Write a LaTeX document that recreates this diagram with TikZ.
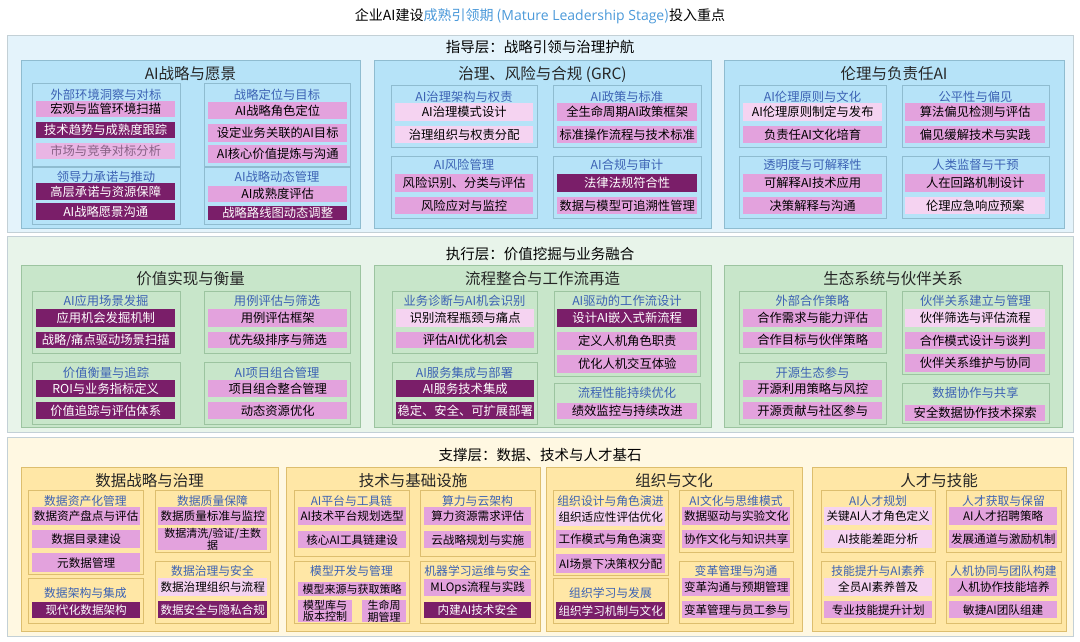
\documentclass[tikz,border=0pt]{standalone}
\usepackage{fontspec}
\setmainfont{Noto Sans CJK SC}
\newfontfamily\lat{Open Sans}
\definecolor{tAbg}{HTML}{E4F3FB}\definecolor{tAsec}{HTML}{B6E3F8}\definecolor{tAbd}{HTML}{8FBCD0}
\definecolor{tBbg}{HTML}{E8F4EA}\definecolor{tBsec}{HTML}{C8E6CA}\definecolor{tBbd}{HTML}{9CC4A0}
\definecolor{tCbg}{HTML}{FFF8E2}\definecolor{tCsec}{HTML}{FFE7A6}\definecolor{tCbd}{HTML}{DDBE6E}
\definecolor{tierbd}{HTML}{C3D0D6}
\definecolor{im}{HTML}{E3A2DD}\definecolor{id}{HTML}{7A1E69}\definecolor{il}{HTML}{F5D3F1}
\definecolor{gt}{HTML}{3C62B4}\definecolor{ttl}{HTML}{4C9ADA}
\newcounter{nd}
\tikzset{
 x=1pt,y=-1pt,
 item/.style={inner sep=0pt,align=center,font=\fontsize{12.3}{13}\selectfont},
 m/.style={item,fill=im,text=black},
 d/.style={item,fill=id,text=white},
 l/.style={item,fill=il,text=black},
 f/.style={item,fill=im!80!white,text=black!40!im},
 sm/.style={font=\fontsize{11}{11.5}\selectfont},
 gtitle/.style={text=gt,inner sep=0pt,font=\fontsize{12.3}{13}\selectfont},
 stitle/.style={text=black!85,inner sep=0pt,font=\fontsize{15.5}{16}\selectfont},
}
\newcommand\itm[6]{\stepcounter{nd}\node[#5,minimum width={#3-#1},minimum height={#4-#2},anchor=north west] (n\arabic{nd}) at (#1,#2) {#6};}
\newcommand\grpt[7]{\stepcounter{nd}\draw[draw=#6,line width=0.8pt] (#1,#2) rectangle (#3,#4);
 \node[gtitle] (n\arabic{nd}) at ({(#1+#3)/2},#5) {#7};}
\newcommand\secb[7]{\stepcounter{nd}\filldraw[fill=#5,draw=#6,line width=0.8pt] (#1,#2) rectangle (#3,#4);
 \node[stitle] (n\arabic{nd}) at ({(#1+#3)/2},{#2+14}) {#7};}
\begin{document}
\begin{tikzpicture}
\useasboundingbox (0,0) rectangle (1080,641);
\fill[white] (0,0) rectangle (1080,641);
\node[font=\fontsize{14}{15}\selectfont] (title) at (540,16) {企业AI建设\textcolor{ttl}{成熟引领期 ({\lat Mature Leadership Stage})}投入重点};
% tiers
\filldraw[fill=tAbg,draw=tierbd,line width=1pt] (7,35) rectangle (1073,232);
\node[font=\fontsize{14.5}{15}\selectfont] (t1) at (540,47) {指导层：战略引领与治理护航};
\filldraw[fill=tBbg,draw=tierbd,line width=1pt] (7,236) rectangle (1073,432);
\node[font=\fontsize{14.5}{15}\selectfont] (t2) at (540,254) {执行层：价值挖掘与业务融合};
\filldraw[fill=tCbg,draw=tierbd,line width=1pt] (7,437) rectangle (1073,636);
\node[font=\fontsize{14.5}{15}\selectfont] (t3) at (540,455) {支撑层：数据、技术与人才基石};
% ===== Tier 1 =====
\secb{21}{60}{360}{228}{tAsec}{tAbd}{AI战略与愿景}
\grpt{32}{83}{180}{166}{95}{tAbd}{外部环境洞察与对标}
\itm{36}{101}{175}{117}{m}{宏观与监管环境扫描}
\itm{36}{122}{175}{138}{d}{技术趋势与成熟度跟踪}
\itm{36}{143}{175}{159}{f}{市场与竞争对标分析}
\grpt{32}{167}{180}{224}{177}{tAbd}{领导力承诺与推动}
\itm{36}{183}{175}{200}{d}{高层承诺与资源保障}
\itm{36}{203}{175}{220}{d}{AI战略愿景沟通}
\grpt{204}{83}{350}{166}{95}{tAbd}{战略定位与目标}
\itm{208}{102}{347}{119}{m}{AI战略角色定位}
\itm{208}{124}{347}{142}{m}{设定业务关联的AI目标}
\itm{208}{145}{347}{163}{m}{AI核心价值提炼与沟通}
\grpt{204}{167}{350}{224}{177}{tAbd}{AI战略动态管理}
\itm{208}{186}{347}{202}{m}{AI成熟度评估}
\itm{208}{206}{347}{220}{d}{战略路线图动态调整}
\secb{374}{60}{711}{228}{tAsec}{tAbd}{治理、风险与合规 (GRC)}
\grpt{391}{85}{537}{147}{97}{tAbd}{AI治理架构与权责}
\itm{395}{103}{533}{121}{l}{AI治理模式设计}
\itm{395}{126}{533}{143}{l}{治理组织与权责分配}
\grpt{391}{156}{537}{218}{165}{tAbd}{AI风险管理}
\itm{395}{174}{533}{192}{m}{风险识别、分类与评估}
\itm{395}{197}{533}{214}{m}{风险应对与监控}
\grpt{553}{85}{701}{147}{97}{tAbd}{AI政策与标准}
\itm{557}{103}{697}{121}{m}{全生命周期AI政策框架}
\itm{557}{126}{697}{143}{m}{标准操作流程与技术标准}
\grpt{553}{156}{701}{218}{165}{tAbd}{AI合规与审计}
\itm{557}{174}{697}{192}{d}{法律法规符合性}
\itm{557}{197}{697}{214}{m}{数据与模型可追溯性管理}
\secb{724}{60}{1064}{228}{tAsec}{tAbd}{伦理与负责任AI}
\grpt{739}{85}{886}{147}{97}{tAbd}{AI伦理原则与文化}
\itm{743}{103}{882}{121}{l}{AI伦理原则制定与发布}
\itm{743}{126}{882}{143}{m}{负责任AI文化培育}
\grpt{739}{156}{886}{218}{165}{tAbd}{透明度与可解释性}
\itm{743}{174}{882}{192}{m}{可解释AI技术应用}
\itm{743}{197}{882}{214}{m}{决策解释与沟通}
\grpt{902}{85}{1049}{147}{97}{tAbd}{公平性与偏见}
\itm{905}{103}{1045}{121}{m}{算法偏见检测与评估}
\itm{905}{126}{1045}{143}{m}{偏见缓解技术与实践}
\grpt{902}{156}{1049}{218}{165}{tAbd}{人类监督与干预}
\itm{905}{174}{1045}{192}{m}{人在回路机制设计}
\itm{905}{197}{1045}{214}{l}{伦理应急响应预案}
% ===== Tier 2 =====
\secb{21}{265}{360}{427}{tBsec}{tBbd}{价值实现与衡量}
\grpt{32}{291}{180}{353}{301}{tBbd}{AI应用场景发掘}
\itm{36}{309}{175}{327}{d}{应用机会发掘机制}
\itm{36}{332}{175}{348}{d}{战略/痛点驱动场景扫描}
\grpt{32}{362}{180}{424}{373}{tBbd}{价值衡量与追踪}
\itm{36}{380}{175}{397}{d}{ROI与业务指标定义}
\itm{36}{402}{175}{419}{d}{价值追踪与评估体系}
\grpt{204}{291}{350}{353}{301}{tBbd}{用例评估与筛选}
\itm{208}{309}{347}{327}{m}{用例评估框架}
\itm{208}{332}{347}{348}{m}{优先级排序与筛选}
\grpt{204}{362}{350}{424}{373}{tBbd}{AI项目组合管理}
\itm{208}{380}{347}{397}{m}{项目组合整合管理}
\itm{208}{402}{347}{419}{m}{动态资源优化}
\secb{374}{265}{711}{427}{tBsec}{tBbd}{流程整合与工作流再造}
\grpt{392}{291}{537}{353}{301}{tBbd}{业务诊断与AI机会识别}
\itm{396}{309}{534}{327}{l}{识别流程瓶颈与痛点}
\itm{396}{332}{534}{348}{m}{评估AI优化机会}
\grpt{392}{362}{537}{424}{373}{tBbd}{AI服务集成与部署}
\itm{396}{380}{534}{397}{d}{AI服务技术集成}
\itm{396}{402}{534}{419}{d}{稳定、安全、可扩展部署}
\grpt{554}{291}{700}{376}{301}{tBbd}{AI驱动的工作流设计}
\itm{557}{309}{697}{327}{d}{设计AI嵌入式新流程}
\itm{557}{332}{697}{350}{m}{定义人机角色职责}
\itm{557}{355}{697}{373}{m}{优化人机交互体验}
\grpt{554}{383}{700}{424}{393}{tBbd}{流程性能持续优化}
\itm{557}{403}{697}{419}{m}{绩效监控与持续改进}
\secb{724}{265}{1062}{427}{tBsec}{tBbd}{生态系统与伙伴关系}
\grpt{739}{291}{886}{353}{301}{tBbd}{外部合作策略}
\itm{743}{309}{882}{327}{m}{合作需求与能力评估}
\itm{743}{332}{882}{348}{m}{合作目标与伙伴策略}
\grpt{739}{362}{886}{424}{373}{tBbd}{开源生态参与}
\itm{743}{380}{882}{397}{m}{开源利用策略与风控}
\itm{743}{402}{882}{419}{m}{开源贡献与社区参与}
\grpt{902}{291}{1049}{374}{301}{tBbd}{伙伴关系建立与管理}
\itm{905}{309}{1045}{327}{l}{伙伴筛选与评估流程}
\itm{905}{332}{1045}{349}{m}{合作模式设计与谈判}
\itm{905}{354}{1045}{372}{m}{伙伴关系维护与协同}
\grpt{902}{383}{1049}{423}{393}{tBbd}{数据协作与共享}
\itm{905}{405}{1045}{421}{m}{安全数据协作技术探索}
% ===== Tier 3 =====
\tikzset{item/.append style={font=\fontsize{11.6}{12}\selectfont},gtitle/.append style={font=\fontsize{11.8}{12}\selectfont}}
\secb{21}{467}{278}{631}{tCsec}{tCbd}{数据战略与治理}
\grpt{28}{490}{143}{574}{501}{tCbd}{数据资产化管理}
\itm{32}{507}{140}{525}{m}{数据资产盘点与评估}
\itm{32}{530}{140}{548}{m}{数据目录建设}
\itm{32}{553}{140}{572}{m}{元数据管理}
\grpt{28}{578}{143}{623}{593}{tCbd}{数据架构与集成}
\itm{32}{602}{140}{618}{d}{现代化数据架构}
\grpt{155}{490}{270}{552}{501}{tCbd}{数据质量保障}
\itm{158}{507}{267}{525}{m}{数据质量标准与监控}
\itm{158}{528}{267}{550}{m,sm}{数据清洗/验证/主数\\据}
\grpt{155}{561}{270}{623}{571}{tCbd}{数据治理与安全}
\itm{158}{578}{267}{596}{l}{数据治理组织与流程}
\itm{158}{601}{267}{618}{d}{数据安全与隐私合规}
\secb{286}{467}{540}{631}{tCsec}{tCbd}{技术与基础设施}
\grpt{294}{490}{409}{556}{501}{tCbd}{AI平台与工具链}
\itm{298}{507}{406}{525}{m}{AI技术平台规划选型}
\itm{298}{531}{406}{548}{m}{核心AI工具链建设}
\grpt{420}{490}{535}{556}{501}{tCbd}{算力与云架构}
\itm{424}{507}{531}{525}{m}{算力资源需求评估}
\itm{424}{531}{531}{548}{m}{云战略规划与实施}
\grpt{294}{561}{409}{623}{571}{tCbd}{模型开发与管理}
\itm{298}{582}{406}{596}{m,sm}{模型来源与获取策略}
\itm{298}{600}{352}{619}{m,sm}{模型库与\\版本控制}
\itm{362}{600}{406}{619}{m,sm}{生命周\\期管理}
\grpt{420}{561}{535}{623}{571}{tCbd}{机器学习运维与安全}
\itm{424}{579}{531}{596}{m}{MLOps流程与实践}
\itm{424}{602}{531}{618}{d}{内建AI技术安全}
\secb{546}{467}{802}{631}{tCsec}{tCbd}{组织与文化}
\grpt{553}{490}{668}{575}{501}{tCbd}{组织设计与角色演进}
\itm{556}{507}{665}{526}{l}{组织适应性评估优化}
\itm{556}{530}{665}{548}{m}{工作模式与角色演变}
\itm{556}{554}{665}{573}{m}{AI场景下决策权分配}
\grpt{553}{578}{668}{623}{593}{tCbd}{组织学习与发展}
\itm{556}{602}{665}{619}{d}{组织学习机制与文化}
\grpt{679}{490}{793}{552}{501}{tCbd}{AI文化与思维模式}
\itm{682}{507}{790}{525}{m}{数据驱动与实验文化}
\itm{682}{530}{790}{548}{m}{协作文化与知识共享}
\grpt{679}{561}{793}{623}{571}{tCbd}{变革管理与沟通}
\itm{682}{578}{790}{596}{m}{变革沟通与预期管理}
\itm{682}{601}{790}{618}{m}{变革管理与员工参与}
\secb{812}{467}{1066}{631}{tCsec}{tCbd}{人才与技能}
\grpt{821}{490}{935}{552}{501}{tCbd}{AI人才规划}
\itm{824}{507}{932}{525}{l}{关键AI人才角色定义}
\itm{824}{530}{932}{548}{l}{AI技能差距分析}
\grpt{946}{490}{1061}{552}{501}{tCbd}{人才获取与保留}
\itm{949}{507}{1057}{525}{m}{AI人才招聘策略}
\itm{949}{530}{1057}{548}{m}{发展通道与激励机制}
\grpt{821}{561}{935}{623}{571}{tCbd}{技能提升与AI素养}
\itm{824}{578}{932}{596}{l}{全员AI素养普及}
\itm{824}{601}{932}{618}{m}{专业技能提升计划}
\grpt{946}{561}{1061}{623}{571}{tCbd}{人机协同与团队构建}
\itm{949}{578}{1057}{596}{m}{人机协作技能培养}
\itm{949}{601}{1057}{618}{m}{敏捷AI团队组建}
\end{tikzpicture}
\end{document}
